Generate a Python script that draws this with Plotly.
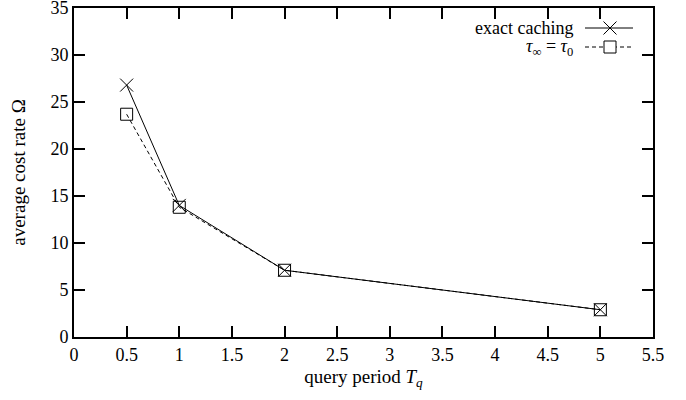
import plotly.graph_objects as go

# query period T_q and the average cost rate for both caching schemes
query_period = [0.5, 1, 2, 5]
exact_caching = [26.8, 14.0, 7.1, 2.9]
tau_inf_eq_tau0 = [23.7, 13.8, 7.1, 2.9]

x_ticks = [0, 0.5, 1, 1.5, 2, 2.5, 3, 3.5, 4, 4.5, 5, 5.5]
y_ticks = [0, 5, 10, 15, 20, 25, 30, 35]

FONT = "Liberation Serif"
W, H = 686, 400
ML, MR, MT, MB = 74, 33, 8, 63
PW, PH = W - ML - MR, H - MT - MB


def px(x):
    return (x - ML) / PW


def py(y):
    return (H - MB - y) / PH


fig = go.Figure()
fig.add_trace(go.Scatter(
    x=query_period, y=exact_caching, mode="lines+markers",
    line=dict(color="black", width=1),
    marker=dict(symbol="x-thin-open", size=13, line=dict(color="black", width=1)),
    showlegend=False,
))
fig.add_trace(go.Scatter(
    x=query_period, y=tau_inf_eq_tau0, mode="lines+markers",
    line=dict(color="black", width=1, dash="4px,3px"),
    marker=dict(symbol="square-open", size=12, color="black", line=dict(color="black", width=1)),
    showlegend=False,
))

axis_common = dict(
    showgrid=False, zeroline=False, showline=True, linecolor="black", linewidth=2,
    mirror="allticks", ticks="inside", ticklen=11, tickwidth=1.5, tickcolor="black",
    tickfont=dict(family=FONT, size=18, color="black"), automargin=False,
    ticklabeloverflow="allow",
)

fig.update_xaxes(range=[0, 5.5], tickvals=x_ticks, ticktext=[f"{v:g}" for v in x_ticks],
                 title=dict(text="query period <i>T</i><sub><i>q</i></sub>",
                            font=dict(family=FONT, size=19, color="black"), standoff=6),
                 **axis_common)
fig.update_yaxes(range=[0, 35], tickvals=y_ticks,
                 title=dict(text="average cost rate Ω",
                            font=dict(family=FONT, size=19, color="black"), standoff=20),
                 **axis_common)

# key in the upper right corner
shapes = []
annotations = []
rows = [("exact caching", 28, "solid", "x"),
        ("<i>τ</i><sub>∞</sub> = <i>τ</i><sub>0</sub>", 47, "dash", "square")]
x0, x1, xc = 585, 633, 610
for label, y, dash, sym in rows:
    annotations.append(dict(x=px(575), y=py(y), xref="paper", yref="paper", xanchor="right",
                            yanchor="middle", showarrow=False, text=label,
                            font=dict(family=FONT, size=18, color="black")))
    shapes.append(dict(type="line", xref="paper", yref="paper", x0=px(x0), x1=px(x1),
                       y0=py(y), y1=py(y), line=dict(color="black", width=1,
                                                     dash="solid" if dash == "solid" else "4px,3px")))
    if sym == "x":
        s = 6.5
        shapes.append(dict(type="line", xref="paper", yref="paper", x0=px(xc - s), x1=px(xc + s),
                           y0=py(y - s), y1=py(y + s), line=dict(color="black", width=1)))
        shapes.append(dict(type="line", xref="paper", yref="paper", x0=px(xc - s), x1=px(xc + s),
                           y0=py(y + s), y1=py(y - s), line=dict(color="black", width=1)))
    else:
        s = 6
        shapes.append(dict(type="rect", xref="paper", yref="paper", x0=px(xc - s), x1=px(xc + s),
                           y0=py(y - s), y1=py(y + s), fillcolor="white",
                           line=dict(color="black", width=1)))

fig.update_layout(
    width=W, height=H, margin=dict(l=ML, r=MR, t=MT, b=MB),
    paper_bgcolor="white", plot_bgcolor="white",
    shapes=shapes, annotations=annotations, showlegend=False,
)

fig.write_html("out.html")
